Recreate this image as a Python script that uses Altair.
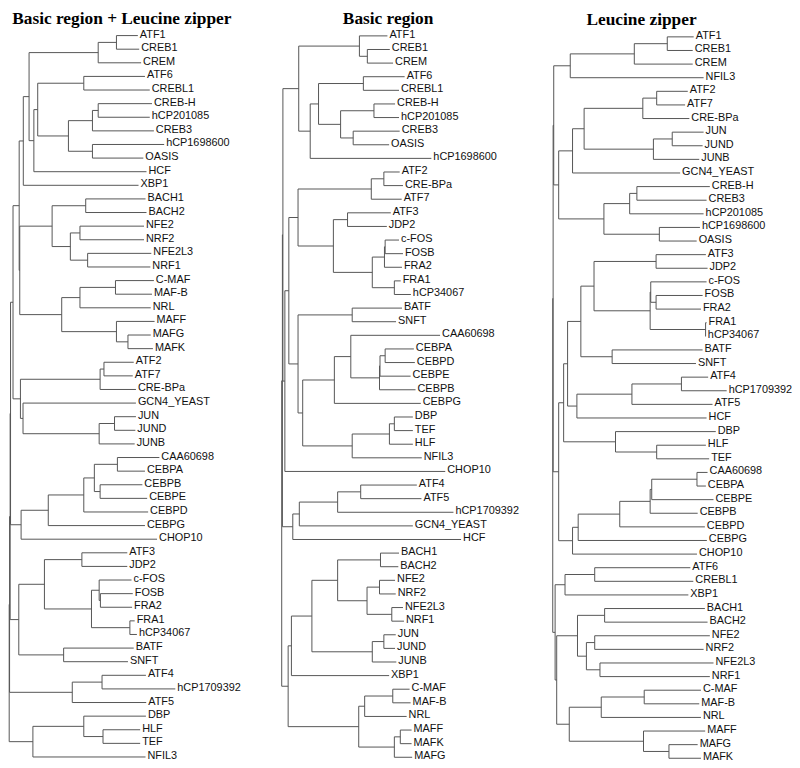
import altair as alt
import pandas as pd

# Panel titles
PANEL_TITLES = ["Basic region + Leucine zipper", "Basic region", "Leucine zipper"]

# Trees.
# Leaf  = (name, tip distance)
# Node  = [join distance, child, child, ...]
# Distances are in pixel-like units measured from each panel's left edge.
TREE_BRLZ = [3.3,
  [3.7,
    [4.3,
      [4.7,
        [7.3,
          [13.7,
            [18, [24, [96, [115, ("ATF1", 137.3), ("CREB1", 138.7)], ("CREM", 140.7)],
                      [29, [33, [81, ("ATF6", 144.7), ("CREBL1", 149.7)],
                                [65, [90, [96, ("CREB-H", 152), ("hCP201085", 149.7)], ("CREB3", 154)],
                                     [90, ("hCP1698600", 164.7), ("OASIS", 143)]]],
                           ("HCF", 146.3)]],
                 ("XBP1", 138)],
            [14.3, [48, [83, ("BACH1", 145.3), ("BACH2", 146.3)],
                        [67, [77, ("NFE2", 143.7), ("NRF2", 143.7)], [85, ("NFE2L3", 151.3), ("NRF1", 150.3)]]],
                   [58, [77, [114, ("C-MAF", 154), ("MAF-B", 152)], ("NRL", 150.7)],
                        [115, ("MAFF", 154.7), [127, ("MAFG", 150.7), ("MAFK", 153)]]]]],
          [15, [98, [102, ("ATF2", 133), ("ATF7", 132)], ("CRE-BPa", 135.3)],
               [17.7, ("GCN4_YEAST", 135.3), [97, [113, ("JUN", 135.3), ("JUND", 134.7)], ("JUNB", 134)]]]],
        [15.7, [44, [81, [92, [116, ("CAA60698", 159.7), ("CEBPA", 144.7)],
                              [98, ("CEBPB", 142), ("CEBPE", 147)]],
                         ("CEBPD", 148)],
                    ("CEBPG", 144.7)],
               ("CHOP10", 157.3)]],
      [13.3, [40, [79, ("ATF3", 126.3), ("JDP2", 126.3)],
                  [89, [97, ("c-FOS", 130.7), [98.3, ("FOSB", 132), ("FRA2", 131.3)]],
                       [129, ("FRA1", 134), ("hCP34067", 136.3)]]],
             [60, ("BATF", 133), ("SNFT", 127)]]],
    [69, [100, ("ATF4", 145.7), ("hCP1709392", 176.3)], ("ATF5", 146)]],
  [28, [81, ("DBP", 145.7), [101, ("HLF", 139.7), ("TEF", 139.7)]], ("NFIL3", 145.3)]]

TREE_BR = [19.5,
  [20.2,
    [20.7,
      [36.7, [98, ("ATF1", 126.3), [106, ("CREB1", 128.7), ("CREM", 132)]],
             [48.3, [56.7, [102, ("ATF6", 143.7), ("CREBL1", 138)],
                           [79, [112.7, ("CREB-H", 134), ("hCP201085", 138)],
                                [91.7, ("CREB3", 138.7), ("OASIS", 128)]]],
                    ("hCP1698600", 170.7)]],
      [22.7, [26.7, [36, [110, [122.7, ("ATF2", 138.7), ("CRE-BPa", 142)], ("ATF7", 140.7)],
                         [71.7, [86, ("ATF3", 129.7), ("JDP2", 125.7)],
                                [111, [123.3, [124, ("c-FOS", 138), ("FOSB", 142)], ("FRA2", 141)],
                                      [133.3, ("FRA1", 139.7), ("hCP34067", 150)]]]],
                    [36, [90.7, ("BATF", 141), ("SNFT", 135)],
                         [40.7, [72.7, [89.3, ("CAA60698", 179.5),
                                              [118.3, [118.8, [124, ("CEBPA", 153), ("CEBPD", 154)], ("CEBPE", 149.7)],
                                                      ("CEBPB", 154.7)]],
                                       ("CEBPG", 160)],
                                [90.7, [128.3, [133.3, ("DBP", 152), ("TEF", 152)], ("HLF", 152)], ("NFIL3", 161)]]]],
             ("CHOP10", 184.7)]],
    [30.7, [37.3, [76, [99.3, ("ATF4", 156), ("ATF5", 160.7)], ("hCP1709392", 193)], ("GCN4_YEAST", 152)],
           ("HCF", 200.7)]],
  [26, [29.3, [50, [76, [119.3, ("BACH1", 138), ("BACH2", 137.3)],
                        [105.7, [118.3, ("NFE2", 134), ("NRF2", 134.7)], [130.7, ("NFE2L3", 142), ("NRF1", 143)]]],
                   [111, [122.7, ("JUN", 134.7), ("JUND", 134)], ("JUNB", 135.3)]],
              ("XBP1", 128)],
       [97.3, [103.3, [131.7, ("C-MAF", 148.7), ("MAF-B", 149.7)], ("NRL", 145.7)],
              [133.3, [139.3, ("MAFF", 150.7), ("MAFK", 150.7)], ("MAFG", 151.3)]]]]

TREE_LZ = [28.3,
  [28.7,
    [29.3, [46, [110.7, [144, ("ATF1", 170.7), ("CREB1", 169.7)], ("CREM", 169.7)], ("NFIL3", 180.7)],
           [34.3, [48.3, [60, [119.3, [133.3, ("ATF2", 164.7), ("ATF7", 162)], ("CRE-BPa", 166.3)],
                              [130, [149, ("JUN", 180.7), ("JUND", 179.7)], ("JUNB", 176.3)]],
                         ("GCN4_YEAST", 157)],
                  [80, [106, [113.3, ("CREB-H", 187), ("CREB3", 183.7)], ("hCP201085", 180.7)],
                       [136, ("hCP1698600", 177), ("OASIS", 173.7)]]]],
    [34.3, [39.3, [43.3, [56.7, [70, [132.7, ("ATF3", 183), ("JDP2", 184.7)],
                                     [126.7, [127.3, ("c-FOS", 183.7), [132.7, ("FOSB", 179.7), ("FRA2", 178)]],
                                             [182.7, ("FRA1", 183.7), ("hCP34067", 183)]]],
                                [88.3, ("BATF", 179.7), ("SNFT", 173)]],
                         [52.7, [108.3, [158.3, ("ATF4", 185.3), ("hCP1709392", 204)], ("ATF5", 189.7)],
                                ("HCF", 183.7)]],
                  [91.7, ("DBP", 193), [133.3, ("HLF", 183), ("TEF", 186.3)]]],
           [48.3, [54, [96, [126.7, [128.3, [174, ("CAA60698", 184.7), ("CEBPA", 183)], ("CEBPE", 190.7)],
                                    ("CEBPB", 174.7)],
                            ("CEBPD", 182)],
                       ("CEBPG", 184)],
                  ("CHOP10", 174)]]],
  [30.7, [40.7, [70.7, ("ATF6", 167.3), ("CREBL1", 170.3)], ("XBP1", 165.3)],
         [32.3, [53.3, [80.7, ("BACH1", 182), ("BACH2", 184.7)],
                       [62.3, [70.7, ("NFE2", 187), ("NRF2", 180.7)], [76, ("NFE2L3", 190.7), ("NRF1", 187)]]],
                [45, [77.3, [120.7, ("C-MAF", 178), ("MAF-B", 176.3)], ("NRL", 178)],
                     [120, ("MAFF", 182.3), [145.7, ("MAFG", 174.7), ("MAFK", 178)]]]]]]

TREES = [TREE_BRLZ, TREE_BR, TREE_LZ]

# layout (page pixels)
PANEL_OFFSET = [6, 265, 530]
PANEL_SCALE = [0.97, 1.0, 1.0]
LEAF_TOP = [32.0, 32.3, 33.3]
LEAF_STEP = 13.75
TITLE_X = [123, 392, 648]
TITLE_Y = [20, 20, 21]


def build(tree, offset, k, y0, step):
    segs, labels = [], []
    idx = [0]

    def px(d):
        return offset + d * k

    def rec(node):
        if isinstance(node, tuple):
            name, tip = node
            y = y0 + idx[0] * step
            idx[0] += 1
            labels.append({"label": name, "x": px(tip), "y": y})
            return y, tip
        h = node[0]
        kids = [rec(c) for c in node[1:]]
        for ky, kx in kids:
            segs.append({"x": px(h), "x2": px(kx), "y": ky, "y2": ky})
        ys = [kk[0] for kk in kids]
        segs.append({"x": px(h), "x2": px(h), "y": min(ys), "y2": max(ys)})
        return (min(ys) + max(ys)) / 2, h

    rec(tree)
    return segs, labels


all_segs, all_labels = [], []
for t, off, k, y0 in zip(TREES, PANEL_OFFSET, PANEL_SCALE, LEAF_TOP):
    s, l = build(t, off, k, y0, LEAF_STEP)
    all_segs += s
    all_labels += l

seg_df = pd.DataFrame(all_segs)
lab_df = pd.DataFrame(all_labels)
title_df = pd.DataFrame({"title": PANEL_TITLES, "x": TITLE_X, "y": TITLE_Y})

xs = alt.Scale(domain=[8, 800], nice=False, zero=False)
ys = alt.Scale(domain=[766, 8], nice=False, zero=False)

rules = alt.Chart(seg_df).mark_rule(stroke="#555555", strokeWidth=1).encode(
    x=alt.X("x:Q", scale=xs, axis=None),
    x2="x2:Q",
    y=alt.Y("y:Q", scale=ys, axis=None),
    y2="y2:Q",
)

labels = alt.Chart(lab_df).mark_text(
    align="left", baseline="middle", dx=2, dy=-1,
    font="Liberation Sans", fontSize=11, color="#111111",
).encode(
    x=alt.X("x:Q", scale=xs, axis=None),
    y=alt.Y("y:Q", scale=ys, axis=None),
    text="label:N",
)

titles = alt.Chart(title_df).mark_text(
    align="center", baseline="alphabetic",
    font="Liberation Serif", fontSize=17.5, fontWeight="bold", color="#000000",
).encode(
    x=alt.X("x:Q", scale=xs, axis=None),
    y=alt.Y("y:Q", scale=ys, axis=None),
    text="title:N",
)

chart = alt.layer(rules, labels, titles).properties(
    width=792, height=758, padding=0,
    autosize=alt.AutoSizeParams(type="none"),
).configure_view(stroke=None)

chart.save("out.html", embed_options={"renderer": "svg", "actions": False})
